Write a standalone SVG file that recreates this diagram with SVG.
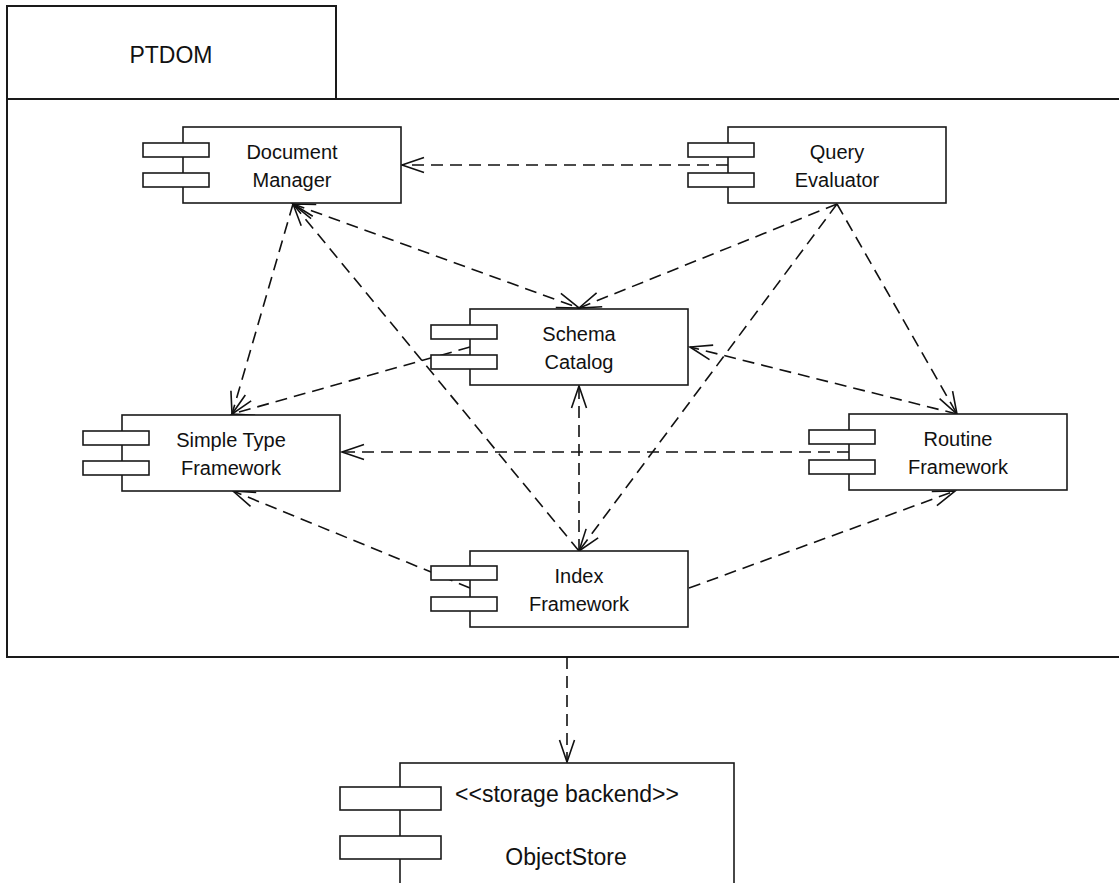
<svg xmlns="http://www.w3.org/2000/svg" width="1119" height="883" viewBox="0 0 1119 883">
  <style>
    .pkg { fill: #fff; stroke: #1a1a1a; stroke-width: 2; }
    .box { fill: #fff; stroke: #1a1a1a; stroke-width: 1.6; }
    .lbl { font-family: "Liberation Sans", Arial, Helvetica, sans-serif; font-size: 20px; fill: #111; text-anchor: middle; }
    .big { font-size: 23px; }
    .dep { fill: none; stroke: #111; stroke-width: 1.6; stroke-dasharray: 12 7; }
  </style>
  <defs>
    <marker id="open" markerUnits="userSpaceOnUse" markerWidth="30" markerHeight="20" viewBox="-25 -10 30 20" refX="0" refY="0" orient="auto-start-reverse" overflow="visible">
      <path d="M-22,-7.5 L0,0 L-22,7.5" fill="none" stroke="#111" stroke-width="1.6"/>
    </marker>
  </defs>

  <rect width="1119" height="883" fill="#fff"/>

  <!-- package frame -->
  <g id="ptdom">
    <rect class="pkg" x="7" y="6" width="329" height="93"/>
    <rect class="pkg" x="7" y="99" width="1130" height="558"/>
    <text class="lbl big" x="171" y="63">PTDOM</text>
  </g>

  <!-- dependencies -->
  <g id="connectors">
    <path class="dep" d="M728,165 L402,165" marker-end="url(#open)"/>
    <path class="dep" d="M293,204 L579,308" marker-start="url(#open)" marker-end="url(#open)"/>
    <path class="dep" d="M837,204 L579,308" marker-end="url(#open)"/>
    <path class="dep" d="M293,204 L232,414" marker-end="url(#open)"/>
    <path class="dep" d="M470,347 L232,414" marker-end="url(#open)"/>
    <path class="dep" d="M579,551 L293,204" marker-end="url(#open)"/>
    <path class="dep" d="M849,452 L342,452" marker-end="url(#open)"/>
    <path class="dep" d="M957,414 L690,347" marker-end="url(#open)"/>
    <path class="dep" d="M837,204 L957,414" marker-end="url(#open)"/>
    <path class="dep" d="M579,551 L579,386" marker-end="url(#open)"/>
    <path class="dep" d="M470,588 L233,491" marker-end="url(#open)"/>
    <path class="dep" d="M689,588 L955,491" marker-end="url(#open)"/>
    <path class="dep" d="M837,204 L579,551" marker-end="url(#open)"/>
    <path class="dep" d="M567,657 L567,762" marker-end="url(#open)"/>
  </g>

  <!-- components -->
  <g id="document-manager">
    <rect class="box" x="183" y="127" width="218" height="76"/>
    <rect class="box" x="143" y="143" width="66" height="14"/>
    <rect class="box" x="143" y="173" width="66" height="14"/>
    <text class="lbl" x="292" y="159">Document</text>
    <text class="lbl" x="292" y="187">Manager</text>
  </g>

  <g id="query-evaluator">
    <rect class="box" x="728" y="127" width="218" height="76"/>
    <rect class="box" x="688" y="143" width="66" height="14"/>
    <rect class="box" x="688" y="173" width="66" height="14"/>
    <text class="lbl" x="837" y="159">Query</text>
    <text class="lbl" x="837" y="187">Evaluator</text>
  </g>

  <g id="schema-catalog">
    <rect class="box" x="470" y="309" width="218" height="76"/>
    <rect class="box" x="431" y="325" width="66" height="14"/>
    <rect class="box" x="431" y="355" width="66" height="14"/>
    <text class="lbl" x="579" y="341">Schema</text>
    <text class="lbl" x="579" y="369">Catalog</text>
  </g>

  <g id="simple-type-framework">
    <rect class="box" x="122" y="415" width="218" height="76"/>
    <rect class="box" x="83" y="431" width="66" height="14"/>
    <rect class="box" x="83" y="461" width="66" height="14"/>
    <text class="lbl" x="231" y="447">Simple Type</text>
    <text class="lbl" x="231" y="475">Framework</text>
  </g>

  <g id="routine-framework">
    <rect class="box" x="849" y="414" width="218" height="76"/>
    <rect class="box" x="809" y="430" width="66" height="14"/>
    <rect class="box" x="809" y="460" width="66" height="14"/>
    <text class="lbl" x="958" y="446">Routine</text>
    <text class="lbl" x="958" y="474">Framework</text>
  </g>

  <g id="index-framework">
    <rect class="box" x="470" y="551" width="218" height="76"/>
    <rect class="box" x="431" y="566" width="66" height="14"/>
    <rect class="box" x="431" y="597" width="66" height="14"/>
    <text class="lbl" x="579" y="583">Index</text>
    <text class="lbl" x="579" y="611">Framework</text>
  </g>

  <g id="object-store">
    <rect class="box" x="400" y="763" width="334" height="140"/>
    <rect class="box" x="340" y="787" width="101" height="23"/>
    <rect class="box" x="340" y="836" width="101" height="23"/>
    <text class="lbl big" x="567" y="802">&lt;&lt;storage backend&gt;&gt;</text>
    <text class="lbl big" x="566" y="865">ObjectStore</text>
  </g>
</svg>
